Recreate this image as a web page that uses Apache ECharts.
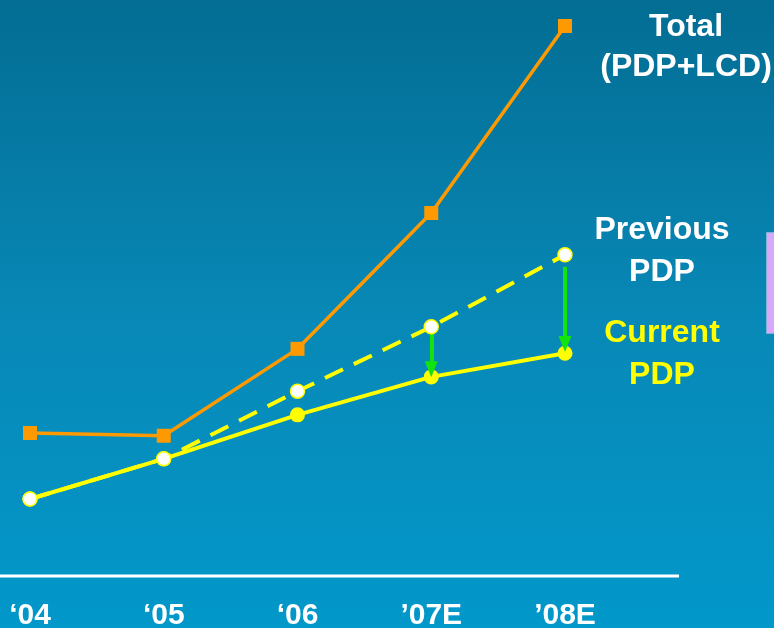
<!DOCTYPE html>
<html>
<head>
<meta charset="utf-8">
<script src="https://cdn.jsdelivr.net/npm/echarts@6/dist/echarts.min.js"></script>
<style>
  html, body { margin: 0; padding: 0; }
  #chart { width: 774px; height: 628px; }
</style>
</head>
<body>
<div id="chart"></div>
<script>
// Years on the horizontal axis
const years = ['\u201804', '\u201805', '\u201806', '\u201907E', '\u201908E'];

// Shipment index values
const totalPdpLcd = [26.0, 25.5, 41.3, 66.0, 100.0];
const previousPdp = [14.0, 21.3, 33.6, 45.3, 58.4];
const currentPdp  = [14.0, 21.3, 29.3, 36.2, 40.5];

// Downward revision arrows: [year, from, to]
const revisionArrows = [
  ['\u201907E', 46.0, 37.6],
  ['\u201908E', 56.2, 42.2]
];

const FONT = '"Liberation Sans", Arial, sans-serif';

const chart = echarts.init(document.getElementById('chart'));

chart.setOption({
  animation: false,
  backgroundColor: {
    type: 'linear', x: 0, y: 0, x2: 0, y2: 1,
    colorStops: [
      { offset: 0, color: '#036d93' },
      { offset: 0.5, color: '#0888b6' },
      { offset: 1, color: '#0298ca' }
    ]
  },
  grid: { left: 30, right: 209, top: 26, bottom: 52, containLabel: false, outerBoundsMode: 'none' },
  xAxis: {
    type: 'category',
    data: years,
    boundaryGap: false,
    axisLine: { show: false },
    axisTick: { show: false },
    splitLine: { show: false },
    axisLabel: {
      color: '#ffffff',
      fontFamily: FONT,
      fontWeight: 'bold',
      fontSize: 30,
      margin: 25
    }
  },
  yAxis: {
    type: 'value',
    min: 0,
    max: 100,
    show: false
  },
  series: [
    {
      name: 'Total (PDP+LCD)',
      type: 'line',
      data: totalPdpLcd,
      symbol: 'rect',
      symbolSize: 14,
      lineStyle: { color: '#ff9900', width: 3.5 },
      itemStyle: { color: '#ff9900' },
      z: 3
    },
    {
      name: 'Current PDP',
      type: 'line',
      data: currentPdp,
      symbol: 'circle',
      symbolSize: 15,
      lineStyle: { color: '#ffff00', width: 4 },
      itemStyle: { color: '#ffff00' },
      z: 4
    },
    {
      name: 'Previous PDP',
      type: 'line',
      data: previousPdp,
      symbol: 'circle',
      symbolSize: 14,
      lineStyle: { color: '#ffff00', width: 4, type: [20, 12] },
      itemStyle: { color: '#ffffff', borderColor: '#ffff00', borderWidth: 1.5 },
      z: 5
    },
    {
      name: 'Revision',
      type: 'line',
      data: [],
      z: 6,
      markLine: {
        silent: true,
        symbol: ['none', 'triangle'],
        symbolSize: [13, 16],
        label: { show: false },
        lineStyle: { color: '#11e311', width: 4, type: 'solid' },
        data: revisionArrows.map(a => [
          { coord: [a[0], a[1]] },
          { coord: [a[0], a[2]] }
        ])
      }
    }
  ],
  graphic: [
    {
      type: 'line',
      shape: { x1: 0, y1: 576, x2: 679, y2: 576 },
      style: { stroke: '#ffffff', lineWidth: 3 }
    },
    {
      type: 'rect',
      shape: { x: 766.5, y: 232.5, width: 12, height: 101 },
      style: { fill: '#d6a9f9', stroke: '#7fb0d8', lineWidth: 1 }
    },
    {
      type: 'text', x: 686, y: 7,
      style: {
        text: 'Total\n(PDP+LCD)', fill: '#ffffff', align: 'center',
        font: 'bold 32px ' + FONT, lineHeight: 40
      }
    },
    {
      type: 'text', x: 662, y: 209,
      style: {
        text: 'Previous\nPDP', fill: '#ffffff', align: 'center',
        font: 'bold 32px ' + FONT, lineHeight: 42
      }
    },
    {
      type: 'text', x: 662, y: 312,
      style: {
        text: 'Current\nPDP', fill: '#ffff00', align: 'center',
        font: 'bold 32px ' + FONT, lineHeight: 42
      }
    }
  ]
});
</script>
</body>
</html>
